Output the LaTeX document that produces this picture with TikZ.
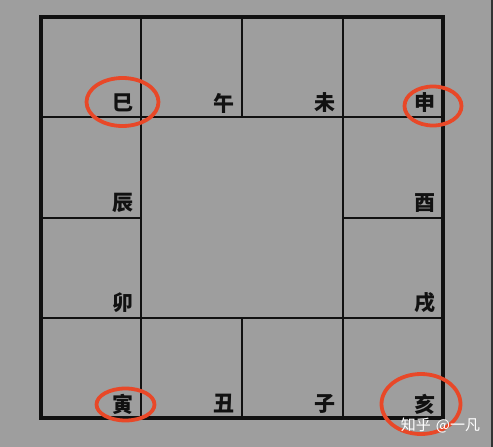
\documentclass[tikz,border=0pt]{standalone}
\usepackage{fontspec}
\newfontfamily\cjk{Noto Sans CJK SC}
\usetikzlibrary{shapes.geometric}
\definecolor{bg}{RGB}{158,158,158}
\definecolor{ring}{RGB}{232,72,40}
\definecolor{ink}{RGB}{17,17,17}
\tikzset{
  branch/.style={font=\cjk\bfseries\fontsize{21}{21}\selectfont, text=ink, inner sep=0pt, anchor=center},
  ringmark/.style={draw=ring, line width=3.8pt, ellipse, inner sep=0pt},
  gridline/.style={draw=ink, line width=2.3pt},
  outerline/.style={draw=ink, line width=3.2pt},
}
\begin{document}
\begin{tikzpicture}[x=1pt,y=-1pt]
\fill[bg] (0,0) rectangle (493,447);
\useasboundingbox (0,0) rectangle (493,447);
\draw[gray!40!black, line width=1.5pt] (491.8,0) -- (491.8,447);
% grid
\coordinate (TL) at (41,17);
\coordinate (BR) at (443,418);
\draw[gridline] (141,17) -- (141,418);
\draw[gridline] (343,17) -- (343,418);
\draw[gridline] (242,17) -- (242,117);
\draw[gridline] (242,318) -- (242,418);
\draw[gridline] (41,117) -- (443,117);
\draw[gridline] (41,318) -- (443,318);
\draw[gridline] (41,218) -- (141,218);
\draw[gridline] (343,218) -- (443,218);
\draw[outerline] (TL) rectangle (BR);
% branches
\node[branch] (si)   at (123,103) {巳};
\node[branch] (wu)   at (224,103) {午};
\node[branch] (wei)  at (325,103) {未};
\node[branch] (shen) at (425,103) {申};
\node[branch] (chen) at (123,203) {辰};
\node[branch] (you)  at (425,203) {酉};
\node[branch] (mao)  at (123,303) {卯};
\node[branch] (xu)   at (425,303) {戌};
\node[branch] (yin)  at (123,404) {寅};
\node[branch] (chou) at (224,404) {丑};
\node[branch] (zi)   at (325,404) {子};
\node[branch] (hai)  at (425,404) {亥};
% rings
\node[ringmark, minimum width=72pt, minimum height=48pt] (r1) at (122.5,102) {};
\node[ringmark, minimum width=57pt, minimum height=39pt] (r2) at (433,106) {};
\node[ringmark, minimum width=58pt, minimum height=32pt] (r3) at (125.5,404.5) {};
\node[ringmark, minimum width=79pt, minimum height=60pt] (r4) at (421,404) {};
% watermark
\node[font=\cjk\fontsize{15}{15}\selectfont, text=white, inner sep=0pt] (wm) at (440.5,425) {知乎\hspace{5pt}@一凡};
\end{tikzpicture}
\end{document}
